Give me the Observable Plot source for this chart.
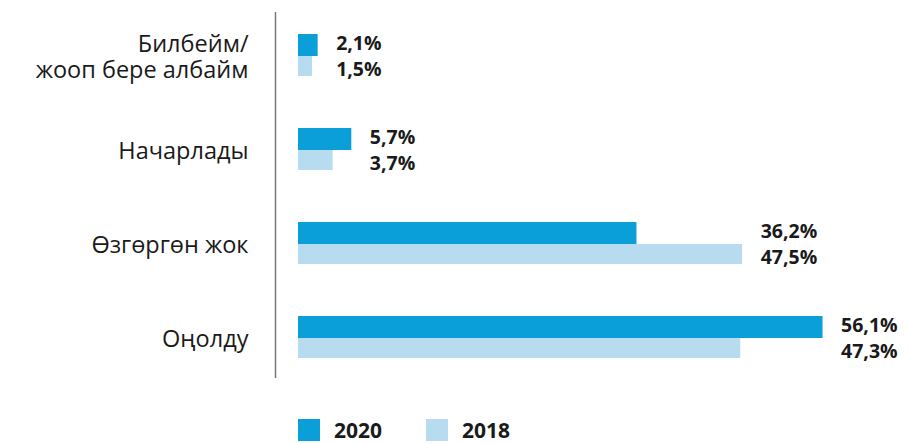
<!DOCTYPE html>
<html>
<head>
<meta charset="utf-8">
<script src="https://cdn.jsdelivr.net/npm/d3@7"></script>
<script src="https://cdn.jsdelivr.net/npm/@observablehq/plot@0.6"></script>
<style>
  body { margin: 0; background: #fff; font-family: "Open Sans", sans-serif; }
  #legend { display: flex; align-items: center; padding-left: 298px; margin-top: 3px; height: 22px; }
  .item { display: flex; align-items: center; margin-right: 44px; }
  .sw { width: 22px; height: 22px; margin-right: 14px; }
  .lab { font-weight: bold; font-size: 21px; color: #1a1a1a; line-height: 22px; }
</style>
</head>
<body>
<div id="chart"></div>
<div id="legend"></div>
<script>
const categories = ["Билбейм/\nжооп бере албайм", "Начарлады", "Өзгөргөн жок", "Оңолду"];
const values2020 = [2.1, 5.7, 36.2, 56.1];
const values2018 = [1.5, 3.7, 47.5, 47.3];
const seriesNames = ["2020", "2018"];
const colors = ["#0B9FD9", "#B7DCF0"];

const fmt = v => v.toFixed(1).replace(".", ",") + "%";
const rows = categories.map((c, i) => ({
  cat: c, v2020: values2020[i], v2018: values2018[i],
  top: Math.max(values2020[i], values2018[i])
}));

const chart = Plot.plot({
  width: 910,
  height: 416,
  marginLeft: 298,
  marginRight: 51,
  marginTop: 8,
  marginBottom: 31,
  style: { fontFamily: "Open Sans, sans-serif", color: "#1a1a1a", background: "#fff" },
  x: { domain: [0, 60], axis: null },
  y: { domain: categories, padding: 0, label: null },
  marks: [
    Plot.axisY({ tickSize: 0, tickPadding: 50, fontSize: 23.5, lineHeight: 1.12, fill: "#1a1a1a" }),
    Plot.ruleX([0], { dx: -23, insetTop: 4, insetBottom: 7, stroke: "#777", strokeWidth: 1.5 }),
    Plot.barX(rows, { y: "cat", x: "v2020", fill: colors[0], insetTop: 25, insetBottom: 47 }),
    Plot.barX(rows, { y: "cat", x: "v2018", fill: colors[1], insetTop: 47, insetBottom: 27 }),
    Plot.text(rows, { y: "cat", x: "top", text: d => fmt(d.v2020), dx: 18, dy: -13, textAnchor: "start",
      fontSize: 19.5, fontWeight: "bold", fill: "#1a1a1a" }),
    Plot.text(rows, { y: "cat", x: "top", text: d => fmt(d.v2018), dx: 18, dy: 13, textAnchor: "start",
      fontSize: 19.5, fontWeight: "bold", fill: "#1a1a1a" })
  ]
});
document.getElementById("chart").appendChild(chart);

const legend = document.getElementById("legend");
seriesNames.forEach((s, i) => {
  const item = document.createElement("div");
  item.className = "item";
  item.innerHTML = `<div class="sw" style="background:${colors[i]}"></div><span class="lab">${s}</span>`;
  legend.appendChild(item);
});
</script>
</body>
</html>
